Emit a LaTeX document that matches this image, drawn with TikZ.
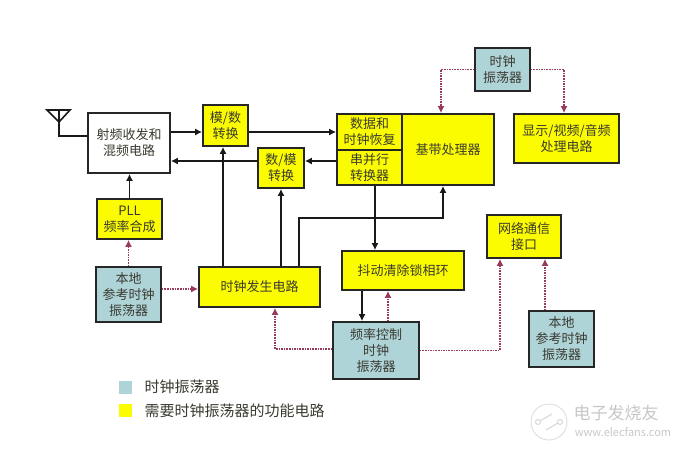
\documentclass[tikz,border=0pt]{standalone}
\usepackage{fontspec}
\setmainfont{Noto Sans CJK SC}
\usetikzlibrary{arrows.meta}
\definecolor{clockfill}{HTML}{AFD4D8}
\definecolor{funcfill}{HTML}{FCFC00}
\definecolor{clockline}{HTML}{9A3A58}
\definecolor{boxtext}{HTML}{3A3A30}
\tikzset{
	box/.style={draw=black!85,line width=1.7pt,inner sep=0pt,align=center,text=boxtext,font=\fontsize{13}{16}\selectfont},
	rfbox/.style={box,fill=white},
	funcbox/.style={box,fill=funcfill},
	clockbox/.style={box,fill=clockfill},
	sig/.style={-{Latex[length=7pt,width=7pt]},line width=1.6pt,draw=black!90},
	clk/.style={-{Latex[length=7pt,width=7pt]},line width=1.9pt,draw=clockline,dash pattern=on 1.6pt off 1pt},
	legendtext/.style={anchor=west,text=boxtext,font=\fontsize{15}{18}\selectfont},
	legendbox/.style={inner sep=0pt}
}
\begin{document}
\begin{tikzpicture}[x=1pt,y=-1pt]
	\useasboundingbox (0,0) rectangle (680,449);

	% draw blocks
	\node(rf) at (129,143) [rfbox,minimum width=82pt,minimum height=60pt] {射频收发和\\混频电路};
	\node(adc) at (225.5,125.5) [funcbox,minimum width=45pt,minimum height=41pt] {模/数\\转换};
	\node(dac) at (281,168) [funcbox,minimum width=46pt,minimum height=40pt] {数/模\\转换};
	\node(pll) at (129.5,219) [funcbox,minimum width=65pt,minimum height=40pt] {PLL\\频率合成};
	\node(refl) at (128.5,294.5) [clockbox,minimum width=65pt,minimum height=55pt] {本地\\参考时钟\\振荡器};
	\node(gen) at (259.5,287) [funcbox,minimum width=121pt,minimum height=40pt] {时钟发生电路};
	\node(jit) at (403,270.5) [funcbox,minimum width=122pt,minimum height=39pt] {抖动清除锁相环};
	\node(fctl) at (376,350.5) [clockbox,minimum width=86pt,minimum height=57pt] {频率控制\\时钟\\振荡器};
	\node(net) at (524,236.5) [funcbox,minimum width=74pt,minimum height=43pt] {网络通信\\接口};
	\node(refr) at (561.5,339) [clockbox,minimum width=65pt,minimum height=56pt] {本地\\参考时钟\\振荡器};
	\node(osc) at (502.5,69.5) [clockbox,minimum width=55pt,minimum height=43pt] {时钟\\振荡器};
	\node(disp) at (566.5,138.5) [funcbox,minimum width=105pt,minimum height=49pt] {显示/视频/音频\\处理电路};

	% draw baseband group
	\node(base) at (448,149.5) [funcbox,minimum width=92pt,minimum height=71pt] {基带处理器};
	\node(cdr) at (369.5,132) [funcbox,minimum width=65pt,minimum height=36pt] {数据和\\时钟恢复};
	\node(ser) at (369.5,167.5) [funcbox,minimum width=65pt,minimum height=35pt] {串并行\\转换器};

	% draw antenna
	\coordinate (ant) at (59,136);
	\coordinate (anttop) at (59,110);
	\draw[line width=1.6pt,black!90] (rf.west |- ant) -- (ant) -- (anttop);
	\draw[line width=1.6pt,black!90] (47,110) -- (70,110) -- (59,122) -- cycle;

	% draw signal lines
	\draw[sig] ([yshift=11pt]rf.east) -- ([yshift=-6.5pt]adc.west);
	\draw[sig] ([yshift=-6.5pt]adc.east) -- (cdr.west);
	\draw[sig] ([yshift=6.5pt]ser.west) -- ([yshift=7pt]dac.east);
	\draw[sig] ([yshift=7pt]dac.west) -- ([yshift=-18pt]rf.east);
	\draw[sig] (pll.north) -- (pll.north |- rf.south);
	\draw[sig] ([xshift=-2.5pt]adc.south |- gen.north) -- ([xshift=-2.5pt]adc.south);
	\draw[sig] (dac.south |- gen.north) -- (dac.south);
	\coordinate (bend) at (443,218);
	\draw[sig] ([xshift=39.5pt]gen.north) |- (bend) -- (bend |- base.south);
	\draw[sig] ([xshift=5.5pt]ser.south) -- ([xshift=5.5pt]ser.south |- jit.north);
	\draw[sig] ([xshift=-41pt]jit.south) -- ([xshift=-41pt]jit.south |- fctl.north);

	% draw clock lines
	\coordinate (gentap) at (275,300);
	\coordinate (nettap) at (500,300);
	\coordinate (basetap) at (441,100);
	\coordinate (disptap) at (564,100);
	\draw[clk] (refl.north) -- (refl.north |- pll.south);
	\draw[clk] ([yshift=5.5pt]refl.east) -- ([yshift=-2pt]gen.west);
	\draw[clk] ([yshift=1.5pt]fctl.west) -| (gentap |- gen.south);
	\draw[clk] ([xshift=12pt]fctl.north) -- ([xshift=12pt]fctl.north |- jit.south);
	\draw[clk] (fctl.east) -| (nettap |- net.south);
	\draw[clk] ([xshift=-16.5pt]refr.north) -- ([xshift=-16.5pt]refr.north |- net.south);
	\draw[clk] (osc.west) -| (basetap |- base.north);
	\draw[clk] (osc.east) -| (disptap |- disp.north);

	% draw legend
	\node(legc) at (125.5,387) [legendbox,fill=clockfill,minimum size=13pt] {};
	\node(legf) at (125.5,410.5) [legendbox,fill=funcfill,minimum size=13pt] {};
	\node[legendtext] (legct) at (141,387) {时钟振荡器};
	\node[legendtext] (legft) at (141,411) {需要时钟振荡器的功能电路};

	% draw watermark
	\draw[black!12,line width=1pt] (549,422) circle (18);
	\draw[black!16,line width=1pt] (538,422) circle (2.5);
	\draw[black!16,line width=1pt] (560,422) circle (2.5);
	\draw[black!16,line width=1pt] (540,421) -- (552,414);
	\draw[black!16,line width=1pt] (558,423) -- (546,430);
	\node[black!22,font=\fontsize{17}{20}\selectfont] (wmname) at (616,413) {电子发烧友};
	\node[black!22,font=\fontsize{11}{13}\selectfont] (wmurl) at (623,432) {www.elecfans.com};
\end{tikzpicture}
\end{document}
